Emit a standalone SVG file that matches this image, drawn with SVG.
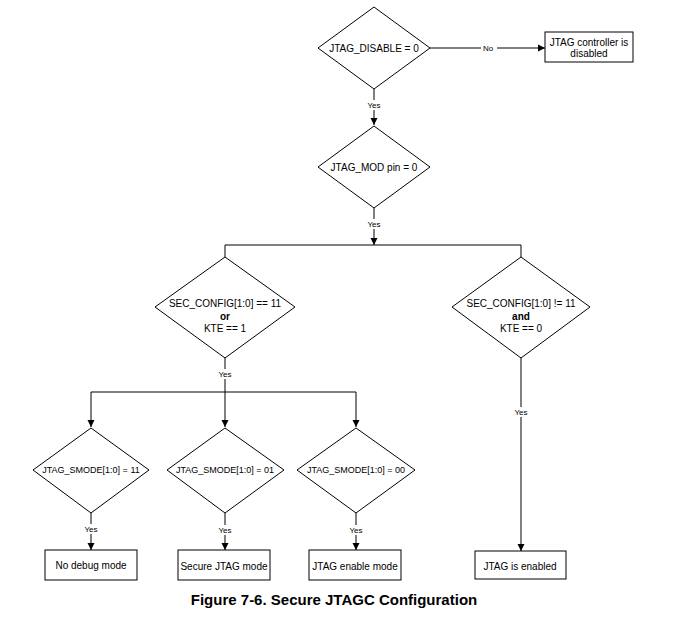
<svg xmlns="http://www.w3.org/2000/svg" width="686" height="625" viewBox="0 0 686 625">
<style>
.s{fill:#fff;stroke:#000;stroke-width:1}
.t{font-family:"Liberation Sans",Arial,sans-serif;font-size:10px;fill:#000;text-anchor:middle;dominant-baseline:central}
.m{font-size:9px}
.y{font-family:"Liberation Sans",Arial,sans-serif;font-size:8px;fill:#000;text-anchor:middle;dominant-baseline:central}
.c{fill:none;stroke:#000;stroke-width:1}
.lb{fill:#fff}
</style>
<defs>
<marker id="ah" markerWidth="8" markerHeight="8" refX="7" refY="4" orient="auto" markerUnits="userSpaceOnUse">
<path d="M0,0.5 L7,4 L0,7.5 Z" fill="#000"/>
</marker>
</defs>
<rect width="686" height="625" fill="#fff"/>
<g id="connectors">
<path class="c" d="M430,48 H545" marker-end="url(#ah)"/>
<path class="c" d="M374,89 V125" marker-end="url(#ah)"/>
<path class="c" d="M374,208 V245" marker-end="url(#ah)"/>
<path class="c" d="M225,257 V245 H521 V257"/>
<path class="c" d="M225,358 V392"/>
<path class="c" d="M91,392 H356"/>
<path class="c" d="M91,392 V427" marker-end="url(#ah)"/>
<path class="c" d="M225,392 V427" marker-end="url(#ah)"/>
<path class="c" d="M356,392 V427" marker-end="url(#ah)"/>
<path class="c" d="M91,513 V550" marker-end="url(#ah)"/>
<path class="c" d="M225,513 V550" marker-end="url(#ah)"/>
<path class="c" d="M356,513 V550" marker-end="url(#ah)"/>
<path class="c" d="M521,358 V551" marker-end="url(#ah)"/>
<rect class="lb" x="481" y="43" width="16" height="10"/>
<text class="y" x="488" y="48" font-size="8.5">No</text>
<rect class="lb" x="365" y="100" width="18" height="10"/>
<text class="y" x="374" y="105">Yes</text>
<rect class="lb" x="365" y="219" width="18" height="10"/>
<text class="y" x="374" y="224">Yes</text>
<rect class="lb" x="216" y="369" width="18" height="10"/>
<text class="y" x="225" y="374">Yes</text>
<rect class="lb" x="82" y="524" width="18" height="10"/>
<text class="y" x="91" y="529">Yes</text>
<rect class="lb" x="216" y="525" width="18" height="10"/>
<text class="y" x="225" y="530">Yes</text>
<rect class="lb" x="347" y="525" width="18" height="10"/>
<text class="y" x="356" y="530">Yes</text>
<rect class="lb" x="512" y="407" width="18" height="10"/>
<text class="y" x="521" y="412">Yes</text>
</g>
<g id="d-disable">
<polygon class="s" points="374,7 430,48 374,89 318,48"/>
<text class="t" x="374" y="48">JTAG_DISABLE = 0</text>
</g>
<g id="b-disabled">
<rect class="s" x="545" y="32" width="88" height="30"/>
<text class="t" x="589" y="42">JTAG controller is</text>
<text class="t" x="589" y="53">disabled</text>
</g>
<g id="d-mod">
<polygon class="s" points="374,126 430,167 374,208 318,167"/>
<text class="t" x="374" y="167">JTAG_MOD pin = 0</text>
</g>
<g id="d-sec-or">
<polygon class="s" points="225,257 295,307 225,358 155,307"/>
<text class="t" x="225" y="303">SEC_CONFIG[1:0] == 11</text>
<text class="t" x="225" y="316" font-weight="bold">or</text>
<text class="t" x="225" y="328">KTE == 1</text>
</g>
<g id="d-sec-and">
<polygon class="s" points="521,257 590,307 521,358 452,307"/>
<text class="t" x="521" y="303">SEC_CONFIG[1:0] != 11</text>
<text class="t" x="521" y="316" font-weight="bold">and</text>
<text class="t" x="521" y="328">KTE == 0</text>
</g>
<g id="d-smode11">
<polygon class="s" points="91,428 149,470 91,513 33,470"/>
<text class="t m" x="91" y="470">JTAG_SMODE[1:0] = 11</text>
</g>
<g id="d-smode01">
<polygon class="s" points="225,428 284,470 225,513 167,470"/>
<text class="t m" x="225" y="470">JTAG_SMODE[1:0] = 01</text>
</g>
<g id="d-smode00">
<polygon class="s" points="356,428 415,470 356,513 297,470"/>
<text class="t m" x="356" y="470">JTAG_SMODE[1:0] = 00</text>
</g>
<g id="b-nodebug">
<rect class="s" x="45" y="550" width="92" height="30"/>
<text class="t" x="91" y="565">No debug mode</text>
</g>
<g id="b-secure">
<rect class="s" x="178" y="550" width="92" height="30"/>
<text class="t" x="224" y="566">Secure JTAG mode</text>
</g>
<g id="b-enable">
<rect class="s" x="309" y="550" width="92" height="30"/>
<text class="t" x="355" y="566">JTAG enable mode</text>
</g>
<g id="b-enabled">
<rect class="s" x="475" y="551" width="91" height="28"/>
<text class="t" x="520" y="566">JTAG is enabled</text>
</g>
<text x="334" y="605" font-family="Liberation Sans, Arial, sans-serif" font-size="15" font-weight="bold" text-anchor="middle">Figure 7-6. Secure JTAGC Configuration</text>
</svg>
